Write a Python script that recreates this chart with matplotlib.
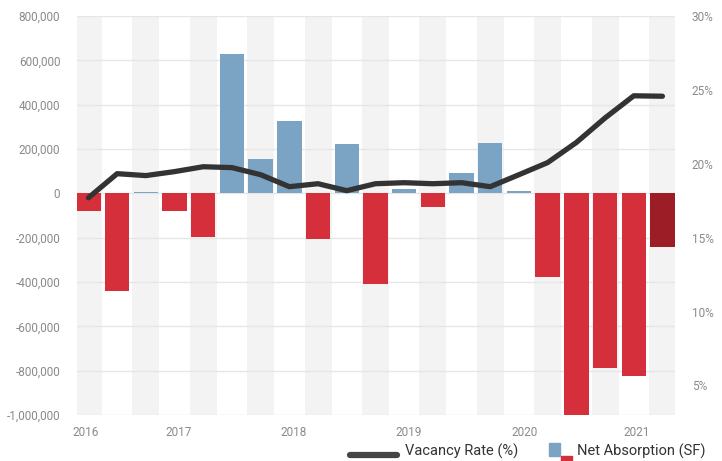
# Net absorption (bars) and vacancy rate (line), 2016-2021
import matplotlib.pyplot as plt
from matplotlib.lines import Line2D
from matplotlib.patches import Rectangle
import numpy as np

plt.rcParams['font.family'] = ['Roboto', 'DejaVu Sans']

# quarterly net absorption (SF)
absorption = [-80000, -440000, 8000, -80000, -195000, 628000, 155000, 325000,
              -207000, 221000, -410000, 20000, -63000, 92000, 225000, 10000,
              -379000, -1010000, -789000, -825000, -242000]
# vacancy rate (%)
vacancy = [17.7, 19.33, 19.2, 19.47, 19.8, 19.74, 19.26, 18.45, 18.65, 18.18,
           18.65, 18.72, 18.65, 18.72, 18.45, 19.26, 20.08, 21.44, 23.1, 24.6,
           24.57]
years = ["2016", "2017", "2018", "2019", "2020", "2021"]
year_pos = [-0.1, 3.15, 7.15, 11.15, 15.2, 19.1]

BLUE = "#7ba3c4"
RED = "#d42f3a"
DARK_RED = "#9c1d26"
GREY_TXT = "#8a8a8a"

x = np.arange(len(absorption))
colors = [BLUE if v > 0 else RED for v in absorption]
colors[-1] = DARK_RED

fig = plt.figure(figsize=(7.22, 4.61), dpi=100)
ax = fig.add_axes([0.1066, 0.0998, 0.8284, 0.8655])

# alternate background bands
for i in x[::2]:
    ax.axvspan(i - 0.47, i + 0.47, color="#f3f3f3", zorder=0, lw=0)

ax.bar(x, absorption, width=0.85, color=colors, zorder=2)
ax.set_xlim(-0.4, 20.44)
ax.set_ylim(-1000000, 800000)
ax.set_yticks(np.arange(-1000000, 800001, 200000))
ax.yaxis.set_major_formatter(plt.FuncFormatter(lambda v, p: f"{int(v):,}"))
ax.grid(axis="y", color="#e6e6e6", lw=1, zorder=1)
ax.set_axisbelow(True)
ax.set_xticks(year_pos)
ax.set_xticklabels(years)
ax.tick_params(length=0, labelsize=8.5, labelcolor=GREY_TXT, pad=12)
ax.tick_params(axis="x", pad=8)
for s in ax.spines.values():
    s.set_visible(False)

ax2 = ax.twinx()
ax2.plot(x, vacancy, color="#333333", lw=3.8, solid_capstyle="round",
         solid_joinstyle="round", zorder=3)
ax2.set_ylim(3, 30)
ax2.set_yticks([5, 10, 15, 20, 25, 30])
ax2.set_yticklabels([f"{v}%" for v in [5, 10, 15, 20, 25, 30]])
ax2.tick_params(length=0, labelsize=8.5, labelcolor=GREY_TXT, pad=12)
for s in ax2.spines.values():
    s.set_visible(False)

# legend at bottom
fig.add_artist(Line2D([350 / 722, 397 / 722], [1 - 455 / 461] * 2, color="#444444",
                      lw=4.5, solid_capstyle="round"))
fig.text(405 / 722, 1 - 451 / 461, "Vacancy Rate (%)", fontsize=10.5, color="#333333",
         va="center", ha="left")
fig.add_artist(Rectangle((549 / 722, 1 - 456 / 461), 11 / 722, 13 / 461, color=BLUE))
fig.add_artist(Rectangle((561 / 722, 0), 11 / 722, 5 / 461, color=RED))
fig.text(577 / 722, 1 - 451 / 461, "Net Absorption (SF)", fontsize=10.5, color="#333333",
         va="center", ha="left")

fig.savefig("out.png", dpi=100)
